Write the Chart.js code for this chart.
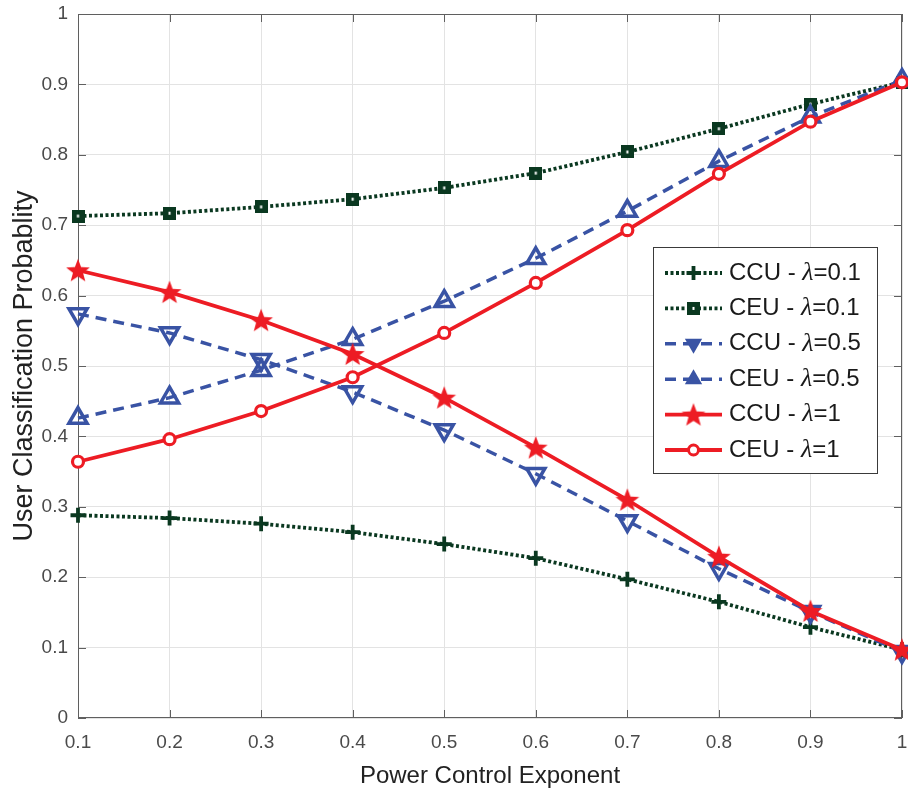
<!DOCTYPE html>
<html>
<head>
<meta charset="utf-8">
<script src="https://cdn.jsdelivr.net/npm/chart.js@4.4.1/dist/chart.umd.min.js"></script>
<style>
  html, body { margin: 0; padding: 0; background: #fff; }
  #wrap { width: 908px; height: 797px; }
</style>
</head>
<body>
<div id="wrap"><canvas id="chart" width="908" height="797"></canvas></div>
<script>
// data
var exponents = [0.1, 0.2, 0.3, 0.4, 0.5, 0.6, 0.7, 0.8, 0.9, 1.0];
var ccuL01 = [0.288, 0.284, 0.276, 0.264, 0.247, 0.227, 0.197, 0.165, 0.129, 0.097];
var ceuL01 = [0.713, 0.717, 0.726, 0.737, 0.753, 0.774, 0.804, 0.837, 0.872, 0.903];
var ccuL05 = [0.574, 0.547, 0.509, 0.463, 0.409, 0.347, 0.280, 0.212, 0.151, 0.094];
var ceuL05 = [0.426, 0.455, 0.494, 0.538, 0.592, 0.653, 0.720, 0.791, 0.854, 0.906];
var ccuL1 = [0.636, 0.605, 0.565, 0.517, 0.455, 0.384, 0.310, 0.229, 0.152, 0.097];
var ceuL1 = [0.364, 0.396, 0.436, 0.484, 0.547, 0.618, 0.693, 0.773, 0.847, 0.903];
var seriesNames = ["CCU - ", "CEU - ", "CCU - ", "CEU - ", "CCU - ", "CEU - "];
var lambdaText = ["=0.1", "=0.1", "=0.5", "=0.5", "=1", "=1"];

var green = "#0a3820";
var blue = "#3953a4";
var red = "#ed1c24";
var SANS = "'Liberation Sans', Arial, Helvetica, sans-serif";

function pts(arr) {
  return arr.map(function (v, i) { return { x: exponents[i], y: v }; });
}

// filled five point star
function makeStar(size, color) {
  var c = document.createElement("canvas");
  c.width = size; c.height = size;
  var g = c.getContext("2d");
  var cx = size / 2, cy = size / 2 + 1, ro = size / 2 - 0.5, ri = ro * 0.42;
  g.beginPath();
  for (var i = 0; i < 10; i++) {
    var r = i % 2 === 0 ? ro : ri;
    var a = -Math.PI / 2 + i * Math.PI / 5;
    g.lineTo(cx + r * Math.cos(a), cy + r * Math.sin(a));
  }
  g.closePath();
  g.fillStyle = color;
  g.fill();
  return c;
}

// dark square with a small light core
function makeSquare(size, color) {
  var c = document.createElement("canvas");
  c.width = size; c.height = size;
  var g = c.getContext("2d");
  g.fillStyle = color;
  g.fillRect(0, 0, size, size);
  g.fillStyle = "#ffffff";
  g.fillRect(size / 2 - 1, size / 2 - 1.5, 2, 3);
  return c;
}

var starImg = makeStar(26, red);
var squareImg = makeSquare(13, green);

var datasets = [
  { data: pts(ccuL01), borderColor: green, borderWidth: 3.8, borderDash: [3, 2.5],
    pointStyle: "cross", pointRadius: 7.5, pointBorderWidth: 3.8, pointBorderColor: green, pointBackgroundColor: green },
  { data: pts(ceuL01), borderColor: green, borderWidth: 3.8, borderDash: [3, 2.5],
    pointStyle: squareImg, pointRadius: 6.5 },
  { data: pts(ccuL05), borderColor: blue, borderWidth: 3.5, borderDash: [11, 7],
    pointStyle: "triangle", pointRotation: 180, pointRadius: 10.5, pointBorderWidth: 3.5, pointBorderColor: blue, pointBackgroundColor: "rgba(255,255,255,0)" },
  { data: pts(ceuL05), borderColor: blue, borderWidth: 3.5, borderDash: [11, 7],
    pointStyle: "triangle", pointRadius: 10.5, pointBorderWidth: 3.5, pointBorderColor: blue, pointBackgroundColor: "rgba(255,255,255,0)" },
  { data: pts(ccuL1), borderColor: red, borderWidth: 3.8,
    pointStyle: starImg, pointRadius: 12 },
  { data: pts(ceuL1), borderColor: red, borderWidth: 3.8,
    pointStyle: "circle", pointRadius: 5.5, pointBorderWidth: 3.2, pointBorderColor: red, pointBackgroundColor: "#ffffff" }
];
datasets.forEach(function (d, i) {
  d.label = seriesNames[i] + "\u03bb" + lambdaText[i];
  d.fill = false;
  d.tension = 0;
  d.clip = false;
  d.order = 6 - i;
  d.pointHoverRadius = d.pointRadius;
});

// axes box with inward ticks, like the original figure
var boxPlugin = {
  id: "box",
  beforeDatasetsDraw: function (chart) {
    var ctx = chart.ctx, a = chart.chartArea;
    var xs = chart.scales.x, ys = chart.scales.y;
    ctx.save();
    ctx.strokeStyle = "#5f5f5f";
    ctx.lineWidth = 1;
    ctx.strokeRect(a.left + 0.5, a.top + 0.5, a.right - a.left - 1, a.bottom - a.top - 1);
    ctx.beginPath();
    xs.ticks.forEach(function (t) {
      var px = Math.round(xs.getPixelForValue(t.value)) + 0.5;
      ctx.moveTo(px, a.bottom); ctx.lineTo(px, a.bottom - 8);
      ctx.moveTo(px, a.top); ctx.lineTo(px, a.top + 8);
    });
    ys.ticks.forEach(function (t) {
      var py = Math.round(ys.getPixelForValue(t.value)) + 0.5;
      ctx.moveTo(a.left, py); ctx.lineTo(a.left + 8, py);
      ctx.moveTo(a.right, py); ctx.lineTo(a.right - 8, py);
    });
    ctx.stroke();
    ctx.restore();
  }
};

function legendMarker(ctx, i, x, y) {
  ctx.save();
  ctx.setLineDash([]);
  if (i === 0) {
    ctx.strokeStyle = green; ctx.lineWidth = 3.8;
    ctx.beginPath();
    ctx.moveTo(x - 7, y); ctx.lineTo(x + 7, y);
    ctx.moveTo(x, y - 7); ctx.lineTo(x, y + 7);
    ctx.stroke();
  } else if (i === 1) {
    ctx.drawImage(squareImg, x - 6.5, y - 6.5, 13, 13);
  } else if (i === 2 || i === 3) {
    var r = 10, s = i === 2 ? -1 : 1;
    ctx.fillStyle = blue;
    ctx.beginPath();
    ctx.moveTo(x, y - s * r);
    ctx.lineTo(x + r * 0.866, y + s * r * 0.5);
    ctx.lineTo(x - r * 0.866, y + s * r * 0.5);
    ctx.closePath();
    ctx.fill();
  } else if (i === 4) {
    ctx.drawImage(starImg, x - 13, y - 13, 26, 26);
  } else {
    ctx.strokeStyle = red; ctx.lineWidth = 3; ctx.fillStyle = "#fff";
    ctx.beginPath();
    ctx.arc(x, y, 5, 0, Math.PI * 2);
    ctx.fill(); ctx.stroke();
  }
  ctx.restore();
}

var legendPlugin = {
  id: "insideLegend",
  afterDatasetsDraw: function (chart) {
    var ctx = chart.ctx;
    var bx = 653.5, by = 247.5, bw = 224, bh = 226;
    ctx.save();
    ctx.fillStyle = "#ffffff";
    ctx.fillRect(bx, by, bw, bh);
    ctx.strokeStyle = "#3a3a3a";
    ctx.lineWidth = 1;
    ctx.strokeRect(bx, by, bw, bh);
    chart.data.datasets.forEach(function (d, i) {
      var y = 273 + i * 35.4;
      ctx.save();
      ctx.strokeStyle = d.borderColor;
      ctx.lineWidth = d.borderWidth;
      ctx.setLineDash(d.borderDash || []);
      ctx.beginPath();
      ctx.moveTo(665, y); ctx.lineTo(722, y);
      ctx.stroke();
      ctx.restore();
      legendMarker(ctx, i, 693.5, y);
      var tx = 729;
      ctx.fillStyle = "#1a1a1a";
      ctx.textBaseline = "middle";
      ctx.textAlign = "left";
      ctx.font = "24px " + SANS;
      ctx.fillText(seriesNames[i], tx, y);
      tx += ctx.measureText(seriesNames[i]).width;
      ctx.font = "italic 26px 'Liberation Serif', 'Times New Roman', serif";
      ctx.fillText("\u03bb", tx, y);
      tx += ctx.measureText("\u03bb").width;
      ctx.font = "24px " + SANS;
      ctx.fillText(lambdaText[i], tx, y);
    });
    ctx.restore();
  }
};

function tickLabel(v) {
  var r = Math.round(v * 10) / 10;
  return String(r);
}

new Chart(document.getElementById("chart").getContext("2d"), {
  type: "line",
  data: { datasets: datasets },
  plugins: [boxPlugin, legendPlugin],
  options: {
    responsive: false,
    animation: false,
    events: [],
    layout: { autoPadding: false, padding: { top: 14, right: 6, left: 0, bottom: 0 } },
    plugins: {
      legend: { display: false },
      tooltip: { enabled: false }
    },
    scales: {
      x: {
        type: "linear",
        min: 0.1,
        max: 1,
        border: { display: false },
        grid: { color: "#e3e3e3", lineWidth: 1, drawTicks: false },
        ticks: { stepSize: 0.1, padding: 13, color: "#4a4a4a", font: { family: SANS, size: 19 }, callback: tickLabel, maxRotation: 0 },
        title: { display: true, text: "Power Control Exponent", color: "#222", font: { family: SANS, size: 24 }, padding: { top: 0, bottom: 6 } },
        afterFit: function (s) { s.height = 79; s.paddingLeft = 0; s.paddingRight = 0; }
      },
      y: {
        type: "linear",
        min: 0,
        max: 1,
        border: { display: false },
        grid: { color: "#e3e3e3", lineWidth: 1, drawTicks: false },
        ticks: { stepSize: 0.1, padding: 10, color: "#4a4a4a", font: { family: SANS, size: 19 }, callback: tickLabel },
        title: { display: true, text: "User Classification Probablity", color: "#222", font: { family: SANS, size: 27 }, padding: { top: 8, bottom: 0 } },
        afterFit: function (s) { s.width = 78; s.paddingTop = 0; s.paddingBottom = 0; }
      }
    }
  }
});
</script>
</body>
</html>
